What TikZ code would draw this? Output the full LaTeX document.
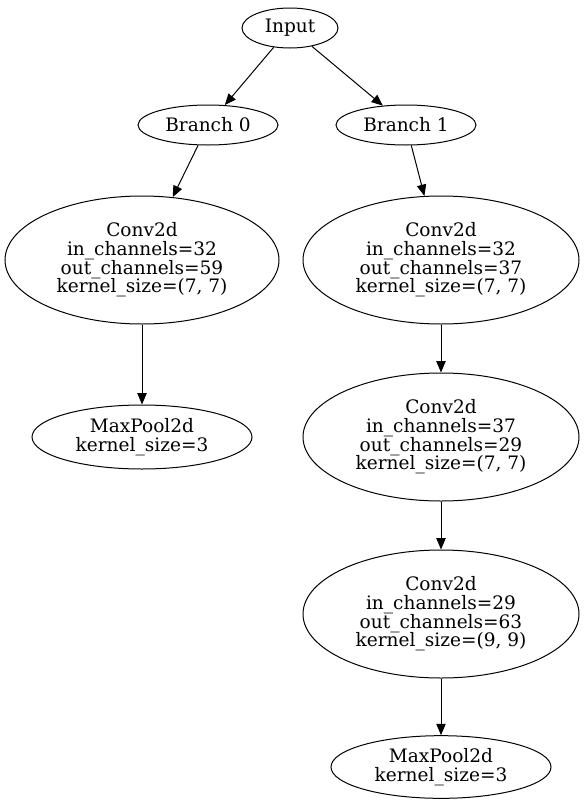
\documentclass[tikz,border=0pt]{standalone}
\usepackage{fontspec}
\setmainfont{DejaVu Serif}
\usetikzlibrary{arrows.meta, shapes.geometric}
\tikzstyle{layer}=[draw, ellipse, inner sep=0pt, align=center, font=\fontsize{13.9}{14}\selectfont]
\tikzstyle{flow}=[-{Triangle[length=8.5pt,width=7pt]}]

\begin{document}
\begin{tikzpicture}[x=0.75pt, y=-0.75pt, line width=0.75pt]
  \useasboundingbox (0,0) rectangle (585,803);
  \node[layer, minimum width=72pt, minimum height=30pt] (input) at (290,28) {Input};
  \node[layer, minimum width=105pt, minimum height=30pt] (b0) at (208,125) {Branch 0};
  \node[layer, minimum width=105pt, minimum height=30pt] (b1) at (406,125) {Branch 1};
  % branch 0
  \node[layer, minimum width=205.5pt, minimum height=96pt] (b0conv) at (142,260)
    {Conv2d\\in\_channels=32\\out\_channels=59\\kernel\_size=(7, 7)};
  \node[layer, minimum width=165pt, minimum height=48pt] (b0pool) at (142,437)
    {MaxPool2d\\kernel\_size=3};
  % branch 1
  \node[layer, minimum width=207pt, minimum height=96pt] (b1conv1) at (441,260)
    {Conv2d\\in\_channels=32\\out\_channels=37\\kernel\_size=(7, 7)};
  \node[layer, minimum width=207pt, minimum height=96pt] (b1conv2) at (441,437)
    {Conv2d\\in\_channels=37\\out\_channels=29\\kernel\_size=(7, 7)};
  \node[layer, minimum width=207pt, minimum height=96pt] (b1conv3) at (441,614)
    {Conv2d\\in\_channels=29\\out\_channels=63\\kernel\_size=(9, 9)};
  \node[layer, minimum width=165pt, minimum height=47pt] (b1pool) at (441,767)
    {MaxPool2d\\kernel\_size=3};
  \draw[flow] (input) -- (b0);
  \draw[flow] (input) -- (b1);
  \draw[flow] (b0) -- (b0conv);
  \draw[flow] (b0conv) -- (b0pool);
  \draw[flow] (b1) -- (b1conv1);
  \draw[flow] (b1conv1) -- (b1conv2);
  \draw[flow] (b1conv2) -- (b1conv3);
  \draw[flow] (b1conv3) -- (b1pool);
\end{tikzpicture}
\end{document}
